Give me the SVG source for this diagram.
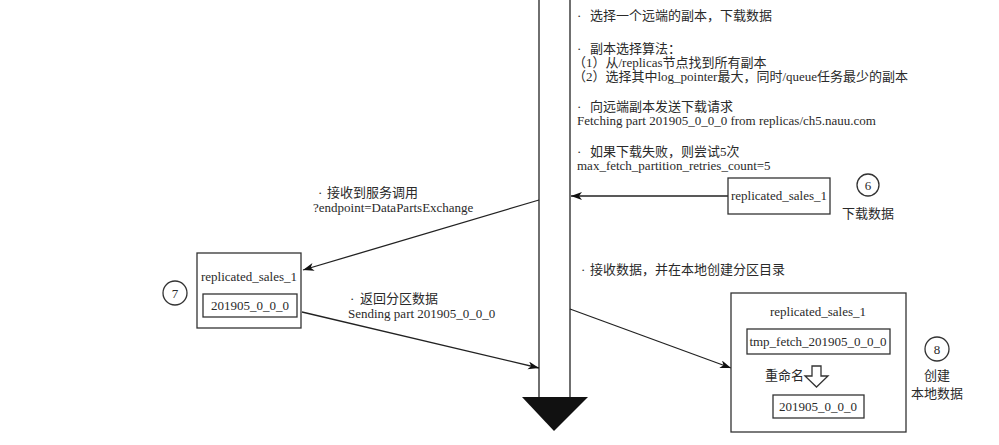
<svg xmlns="http://www.w3.org/2000/svg" width="999" height="445" viewBox="0 0 999 445">
<style>
text{font-family:"Liberation Serif","Noto Sans CJK SC",serif;font-size:13px;fill:#2a2a2a}
.c{text-anchor:middle}
.box{fill:#fff;stroke:#333;stroke-width:1.3}
.ln{stroke:#222;stroke-width:1.3;fill:none}
.conn{stroke:#222;stroke-width:1.3;fill:none;marker-end:url(#ah)}
</style>
<defs>
<marker id="ah" markerUnits="userSpaceOnUse" markerWidth="12" markerHeight="10" refX="11" refY="4" orient="auto">
<path d="M0,0 L11,4 L0,8 L3,4 Z" fill="#111"/>
</marker>
</defs>
<rect width="999" height="445" fill="#fff"/>
<g id="timeline">
<line class="ln" x1="539" y1="0" x2="539" y2="398"/>
<line class="ln" x1="570" y1="0" x2="570" y2="398"/>
<polygon points="522,397 588,397 554,431" fill="#111"/>
</g>
<g id="notes">
<text x="577" y="20">·<tspan x="590">选择一个远端的副本，下载数据</tspan></text>
<text x="577" y="53">·<tspan x="590">副本选择算法：</tspan></text>
<text x="573" y="67">（1）从/replicas节点找到所有副本</text>
<text x="573" y="81">（2）选择其中log_pointer最大，同时/queue任务最少的副本</text>
<text x="577" y="111">·<tspan x="590">向远端副本发送下载请求</tspan></text>
<text x="577" y="125">Fetching part 201905_0_0_0 from replicas/ch5.nauu.com</text>
<text x="577" y="156">·<tspan x="590">如果下载失败，则尝试5次</tspan></text>
<text x="577" y="170">max_fetch_partition_retries_count=5</text>
<text x="581" y="274">·<tspan x="590">接收数据，并在本地创建分区目录</tspan></text>
<text x="318" y="197">·<tspan x="327">接收到服务调用</tspan></text>
<text x="313" y="212">?endpoint=DataPartsExchange</text>
<text x="350" y="303">·<tspan x="360">返回分区数据</tspan></text>
<text x="348" y="318">Sending part 201905_0_0_0</text>
</g>
<g id="connectors">
<line class="conn" x1="728" y1="196" x2="571" y2="196"/>
<line class="conn" x1="539" y1="200" x2="303" y2="270"/>
<line class="conn" x1="302" y1="312" x2="539" y2="368"/>
<line class="conn" x1="570" y1="309" x2="731" y2="368"/>
</g>
<g id="node6">
<rect class="box" x="728" y="178" width="102" height="36"/>
<text class="c" x="779" y="200">replicated_sales_1</text>
<circle class="box" cx="868" cy="185" r="11"/>
<text class="c" x="868" y="190">6</text>
<text class="c" x="868" y="218">下载数据</text>
</g>
<g id="node7">
<rect class="box" x="197" y="253" width="104" height="75"/>
<text class="c" x="249" y="281">replicated_sales_1</text>
<rect class="box" x="203" y="294" width="94" height="23"/>
<text class="c" x="250" y="310">201905_0_0_0</text>
<circle class="box" cx="175" cy="293" r="12"/>
<text class="c" x="175" y="298">7</text>
</g>
<g id="node8">
<rect class="box" x="731" y="293" width="175" height="139"/>
<text class="c" x="818" y="316">replicated_sales_1</text>
<rect class="box" x="747" y="329" width="143" height="25"/>
<text class="c" x="818" y="346">tmp_fetch_201905_0_0_0</text>
<text x="765" y="380">重命名</text>
<polygon class="box" points="812,366 821,366 821,376 828,376 816.5,387 805,376 812,376"/>
<rect class="box" x="773" y="395" width="91" height="23"/>
<text class="c" x="818" y="411">201905_0_0_0</text>
<circle class="box" cx="937" cy="349" r="12"/>
<text class="c" x="937" y="354">8</text>
<text class="c" x="937" y="380">创建</text>
<text class="c" x="937" y="398">本地数据</text>
</g>
</svg>
